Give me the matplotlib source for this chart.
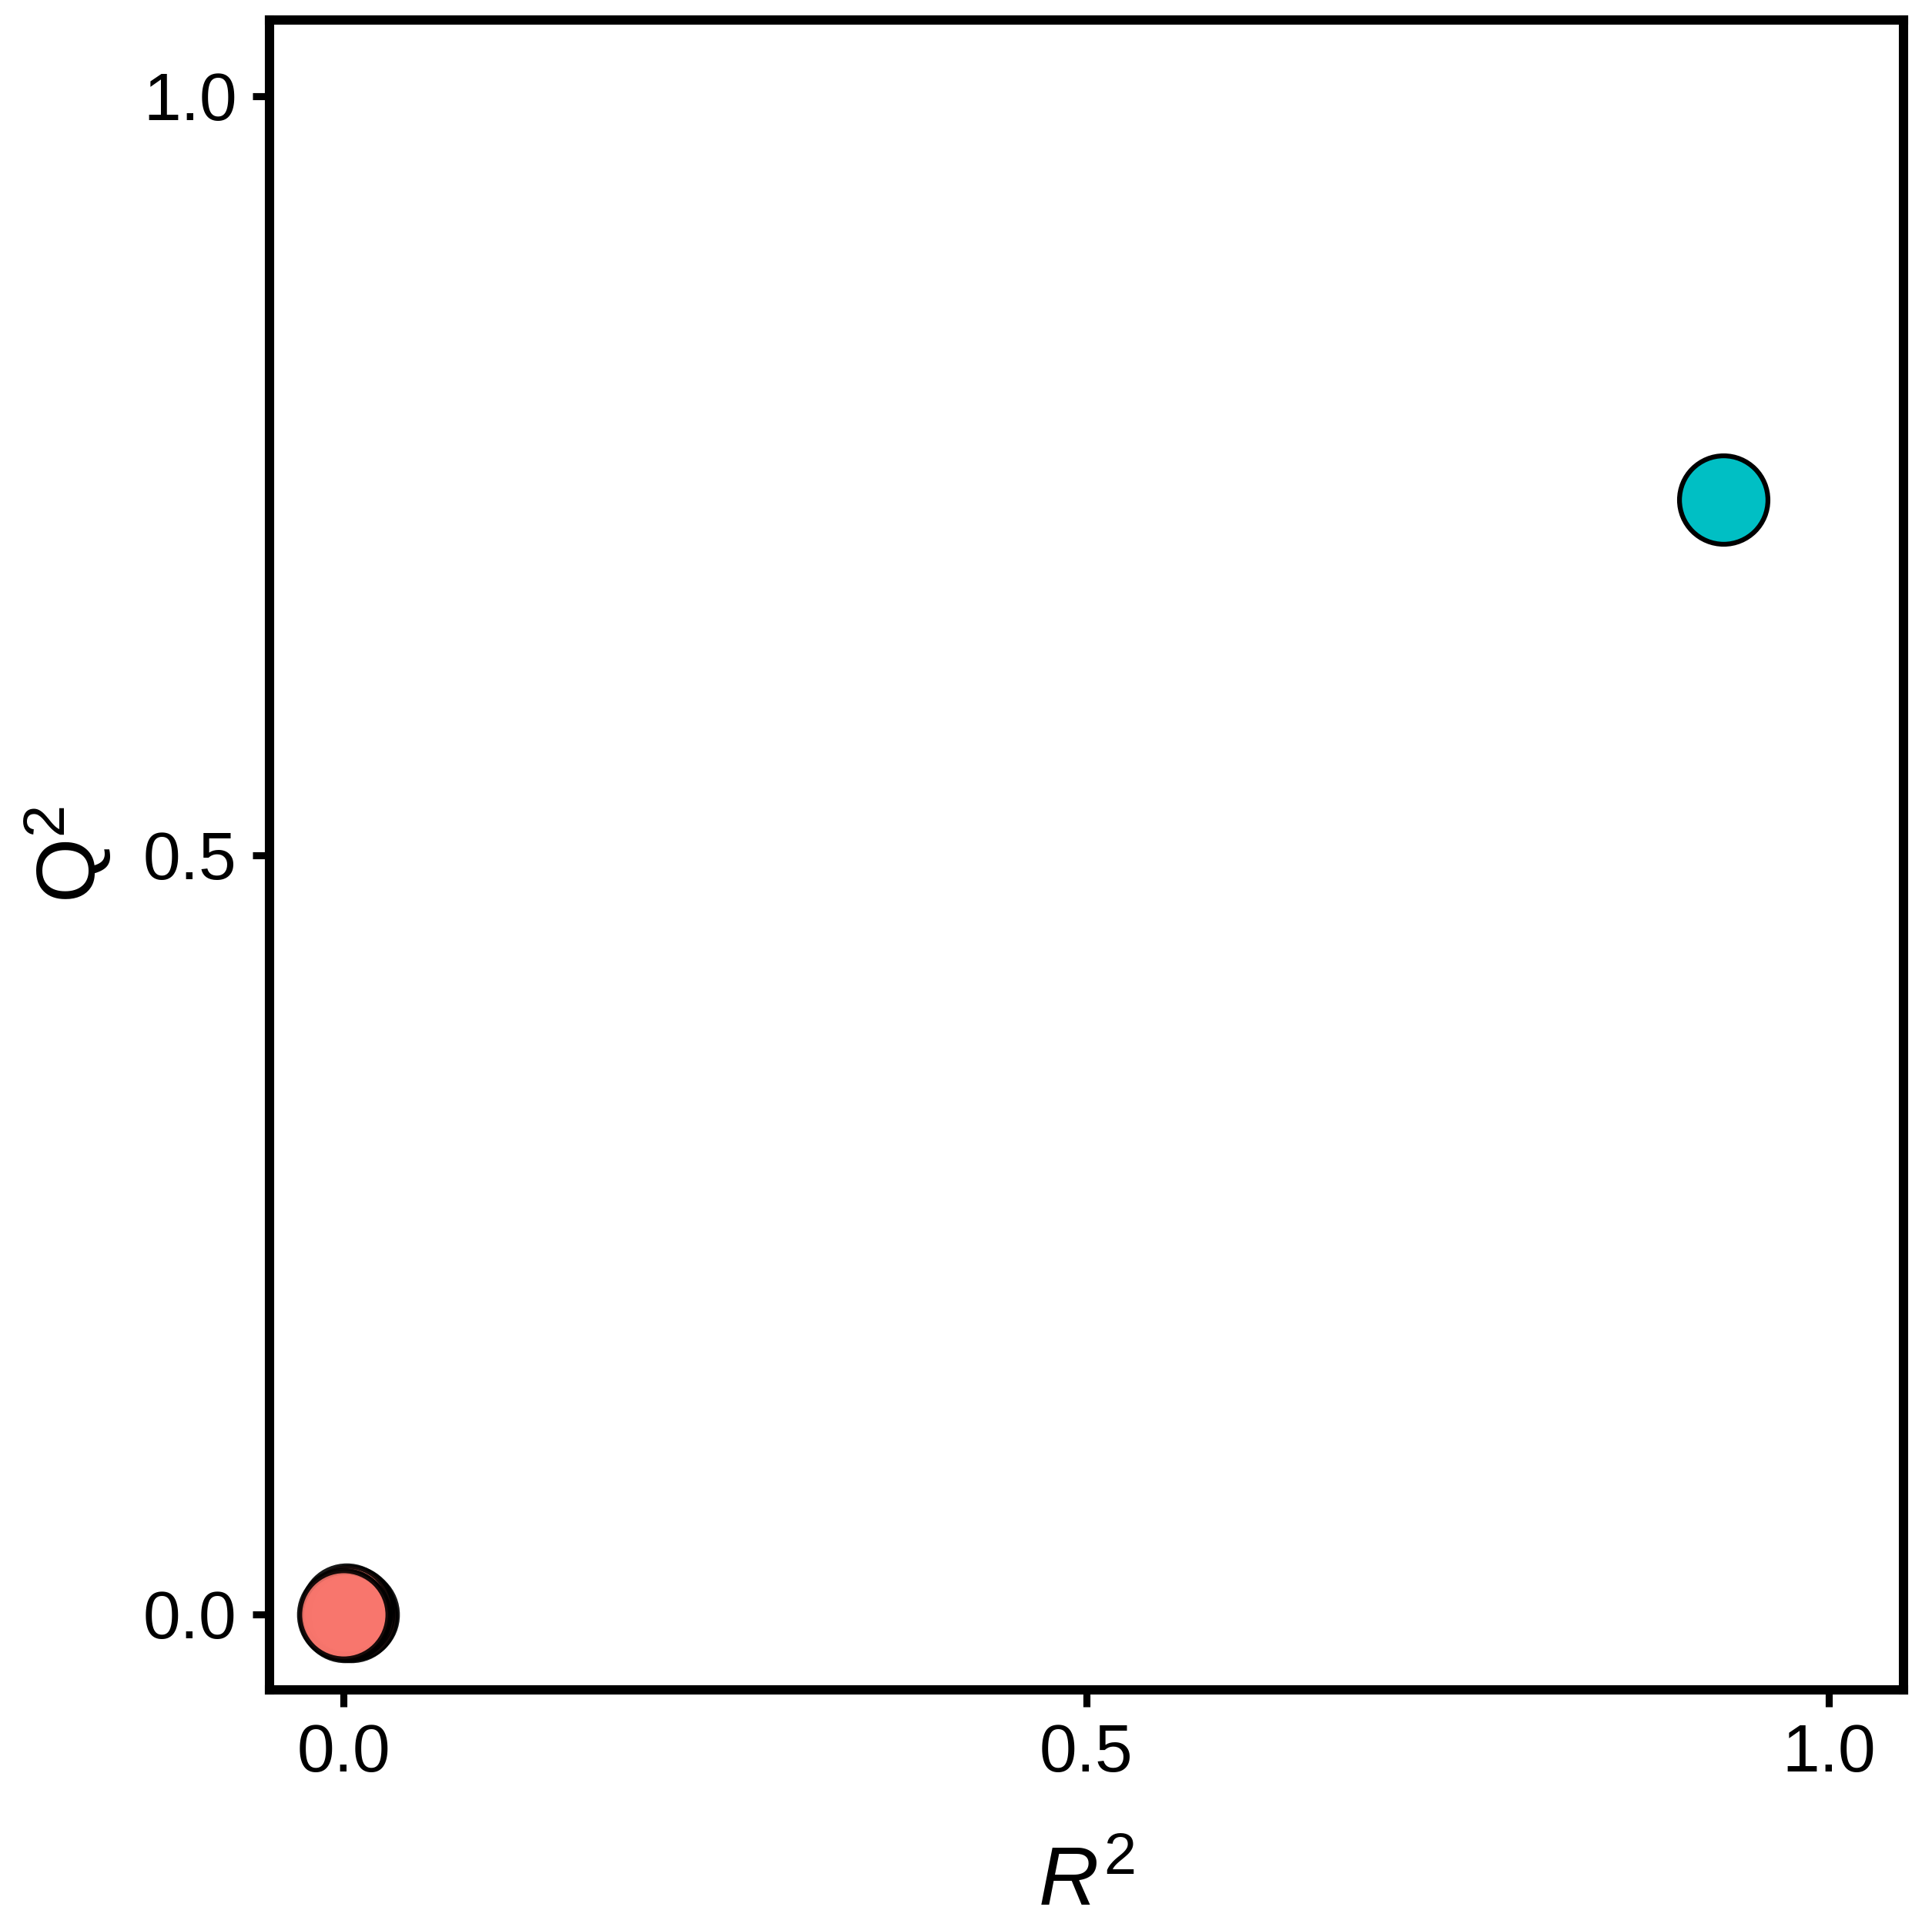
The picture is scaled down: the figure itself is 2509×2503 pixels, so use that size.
import matplotlib
matplotlib.use("Agg")
import matplotlib.pyplot as plt

# permutation results (red) and the original model (cyan)
perm_r2 = [0.006, 0.004, 0.005, 0.003, 0.002, 0.001, 0.000]
perm_q2 = [0.000, 0.002, -0.001, 0.001, 0.003, -0.001, 0.000]
model_r2 = [0.929]
model_q2 = [0.734]

xticks = [0.0, 0.5, 1.0]
yticks = [0.0, 0.5, 1.0]

plt.rcParams['font.family'] = ['Liberation Sans', 'DejaVu Sans']
plt.rcParams['mathtext.fontset'] = 'custom'
plt.rcParams['mathtext.rm'] = 'Liberation Sans'
plt.rcParams['mathtext.it'] = 'Liberation Sans:italic'

fig = plt.figure(figsize=(2509 / 300, 2503 / 300), dpi=300)
ax = fig.add_axes([0.1395, 0.1230, 0.9852 - 0.1395, 0.9896 - 0.1230])

ax.scatter(perm_r2, perm_q2, s=760, c='#F8766D', edgecolors='black',
           linewidths=1.6, alpha=0.9, zorder=3)
ax.scatter(model_r2, model_q2, s=760, c='#00BFC4', edgecolors='black',
           linewidths=1.5, zorder=3)

ax.set_xlim(-0.05, 1.05)
ax.set_ylim(-0.05, 1.05)
ax.set_xticks(xticks)
ax.set_yticks(yticks)
ax.set_xticklabels([f"{t:.1f}" for t in xticks])
ax.set_yticklabels([f"{t:.1f}" for t in yticks])

for sp in ax.spines.values():
    sp.set_linewidth(2.9)
ax.tick_params(length=5.2, width=2.2, labelsize=21, pad=5)

ax.set_xlabel(r"$\mathit{R}^2$", fontsize=26, labelpad=19)
ax.set_ylabel(r"$\mathrm{Q}^2$", fontsize=26, labelpad=9)

fig.savefig("out.png", dpi=300)
